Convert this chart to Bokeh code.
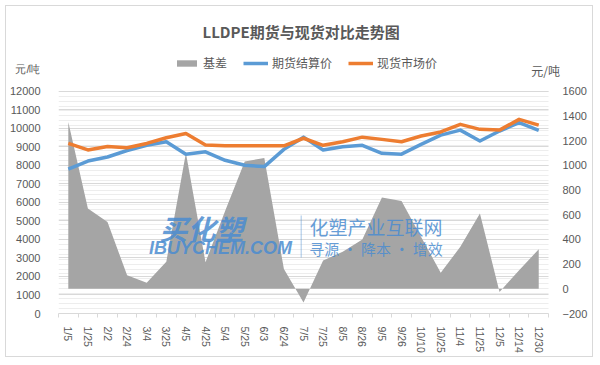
from bokeh.plotting import figure
from bokeh.models import (Range1d, LinearAxis, Grid, FixedTicker,
                          Legend, LegendItem, Label, BoxAnnotation, ColumnDataSource)
from bokeh.embed import file_html
from bokeh.resources import INLINE

# ---------------- data ----------------
cats = ["1/5", "1/25", "2/2", "2/24", "3/4", "3/25", "4/5", "4/25", "5/4", "5/25",
        "6/3", "6/24", "7/5", "7/25", "8/5", "8/26", "9/5", "9/26", "10/10", "10/25",
        "11/4", "11/25", "12/5", "12/14", "12/30"]
basis = [1350, 650, 540, 110, 50, 220, 1100, 215, 630, 1030,
         1060, 160, -110, 230, 300, 400, 740, 710, 420, 130,
         340, 610, -25, 150, 320]
futures = [7800, 8230, 8450, 8800, 9080, 9270, 8600, 8730, 8270, 8000,
           7930, 8860, 9520, 8830, 9000, 9080, 8650, 8600, 9130, 9630,
           9900, 9310, 9850, 10300, 9880]
spot = [9180, 8830, 9020, 8950, 9180, 9490, 9720, 9100, 9050, 9050,
        9050, 9050, 9460, 9080, 9270, 9520, 9400, 9270, 9580, 9800,
        10210, 9940, 9900, 10480, 10170]
left_ticks = list(range(0, 13000, 1000))
right_ticks = list(range(-200, 1800, 200))
right_minor = list(range(-200, 1640, 40))
series_names = ["基差", "期货结算价", "现货市场价"]
unit = "元/吨"
title = "LLDPE期货与现货对比走势图"

# category slots: centre of slot i is i + 0.5
n = len(cats)
xpos = [i + 0.5 for i in range(n)]
src = ColumnDataSource(dict(x=xpos, cat=cats, basis=basis, futures=futures, spot=spot))

# ---------------- layout (page px) ----------------
OX, OY = 6, 6                       # figure content origin on page (margin 5 + border 1)
W, H = 588, 352
PL, PR, PT, PB = 56.7, 560.0, 9.0, 313.0      # frame edges on page
AX_R = 548.0                                 # right end of category slots
AX_T = 90.7                                  # page y of left 12000 / right 1600
slot = (AX_R - PL) / n
def dx(px):
    return (px - PL) / slot
def dy(py):
    return (PB - py) * 12000 / (PB - AX_T)
def dyr(py):
    return -200 + (PB - py) * 1800 / (PB - AX_T)

TXT = "#595959"
CJK = "Noto Sans CJK SC"
NUM = "Liberation Sans"

p = figure(width=W, height=H,
           x_range=Range1d(0, dx(PR)),
           y_range=Range1d(0, dy(PT)),
           output_backend="svg", toolbar_location=None,
           min_border_left=int(round(PL - OX)), min_border_right=int(round(OX + W - PR)),
           min_border_top=int(round(PT - OY)), min_border_bottom=int(round(OY + H - PB)),
           styles={"border": "1px solid #d9d9d9", "margin": "5px"})
p.outline_line_color = None
p.extra_y_ranges = {"right": Range1d(-200, dyr(PT))}

# grids
p.xgrid.grid_line_color = None
p.ygrid.ticker = FixedTicker(ticks=left_ticks)
p.ygrid.grid_line_color = "#d9d9d9"
p.ygrid.cross_bounds = (0, n)
minor = Grid(dimension=1, y_range_name="right", ticker=FixedTicker(ticks=right_minor),
             grid_line_color="#ededed", grid_line_width=1, cross_bounds=(0, n))
p.center.insert(0, minor)

# left axis (unit label sits above the top tick)
unit_y = 13200
ya = p.yaxis[0]
ya.ticker = FixedTicker(ticks=left_ticks + [unit_y])
ya.major_label_overrides = {unit_y: unit}
ya.axis_line_color = None
ya.major_tick_line_color = None
ya.minor_tick_line_color = None
ya.major_label_standoff = 12
ya.major_label_text_font = NUM
ya.major_label_text_font_size = "11px"
ya.major_label_text_color = TXT

# right axis
ra = LinearAxis(y_range_name="right", ticker=FixedTicker(ticks=right_ticks),
                axis_line_color=None, major_tick_line_color=None, minor_tick_line_color=None,
                major_label_standoff=-4, major_label_text_font=NUM,
                major_label_text_font_size="11px", major_label_text_color=TXT)
p.add_layout(ra, "right")

# bottom: boundary tick axis + category label axis
xa = p.xaxis[0]
xa.ticker = FixedTicker(ticks=xpos)
xa.major_label_overrides = {x: c for x, c in zip(xpos, cats)}
xa.axis_line_color = None
xa.major_tick_line_color = None
xa.minor_tick_line_color = None
xa.major_label_orientation = "vertical"
xa.major_label_standoff = 3
xa.major_label_text_font = NUM
xa.major_label_text_font_size = "10.5px"
xa.major_label_text_color = TXT
tick_axis = LinearAxis(ticker=FixedTicker(ticks=list(range(n + 1))), bounds=(0, n),
                       axis_line_color="#d9d9d9", major_tick_line_color="#d9d9d9",
                       major_tick_out=4, major_tick_in=0, minor_tick_line_color=None,
                       major_label_text_font_size="0px", major_label_standoff=0,
                       major_label_text_alpha=0)
p.below = [tick_axis, xa]

# glyphs
area = p.varea(x="x", y1=0, y2="basis", source=src, fill_color="#a5a5a5", y_range_name="right")
fl = p.line(x="x", y="futures", source=src, line_color="#5b9bd5", line_width=3.5, line_join="round")
sl = p.line(x="x", y="spot", source=src, line_color="#ed7d31", line_width=3.5, line_join="round")

legend = Legend(items=[LegendItem(label=series_names[0], renderers=[area]),
                       LegendItem(label=series_names[1], renderers=[fl]),
                       LegendItem(label=series_names[2], renderers=[sl])],
                orientation="horizontal", location=(int(173 - PL), int(PB - 71)),
                glyph_width=25, glyph_height=8, label_height=14, label_standoff=4,
                spacing=16, padding=0, margin=0, border_line_color=None,
                background_fill_alpha=0, label_text_font=CJK,
                label_text_font_size="12px", label_text_color=TXT)
p.add_layout(legend)

# title & right unit label
p.add_layout(Label(x=dx(300), y=dy(31), text=title,
                   text_align="center", text_baseline="middle", text_font=CJK,
                   text_font_size="15px", text_font_style="bold", text_color=TXT))
p.add_layout(Label(x=dx(545), y=dy(70), text=unit, text_align="center",
                   text_baseline="middle", text_font=CJK, text_font_size="12px",
                   text_color=TXT))

# watermark
WM = "#4a8cd0"
p.add_layout(Label(x=dx(200), y=dy(227), text="买化塑", text_align="center",
                   text_baseline="middle", text_font=CJK, text_font_size="28px",
                   text_font_style="bold italic", text_color=WM, text_alpha=0.85))
p.add_layout(Label(x=dx(219), y=dy(247), text="IBUYCHEM.COM", text_align="center",
                   text_baseline="middle", text_font=NUM, text_font_size="18px",
                   text_font_style="bold italic", text_color=WM, text_alpha=0.85))
p.add_layout(BoxAnnotation(left=dx(299.5), right=dx(300.5), bottom=dy(257), top=dy(215),
                           fill_color=WM, fill_alpha=0.5, line_color=None))
p.add_layout(Label(x=dx(375), y=dy(226), text="化塑产业互联网", text_align="center",
                   text_baseline="middle", text_font=CJK, text_font_size="19px",
                   text_color=WM, text_alpha=0.85))
p.add_layout(Label(x=dx(375), y=dy(248), text="寻源 · 降本 · 增效", text_align="center",
                   text_baseline="middle", text_font=CJK, text_font_size="15px",
                   text_color=WM, text_alpha=0.85))

open("out.html", "w").write(file_html(p, INLINE))
